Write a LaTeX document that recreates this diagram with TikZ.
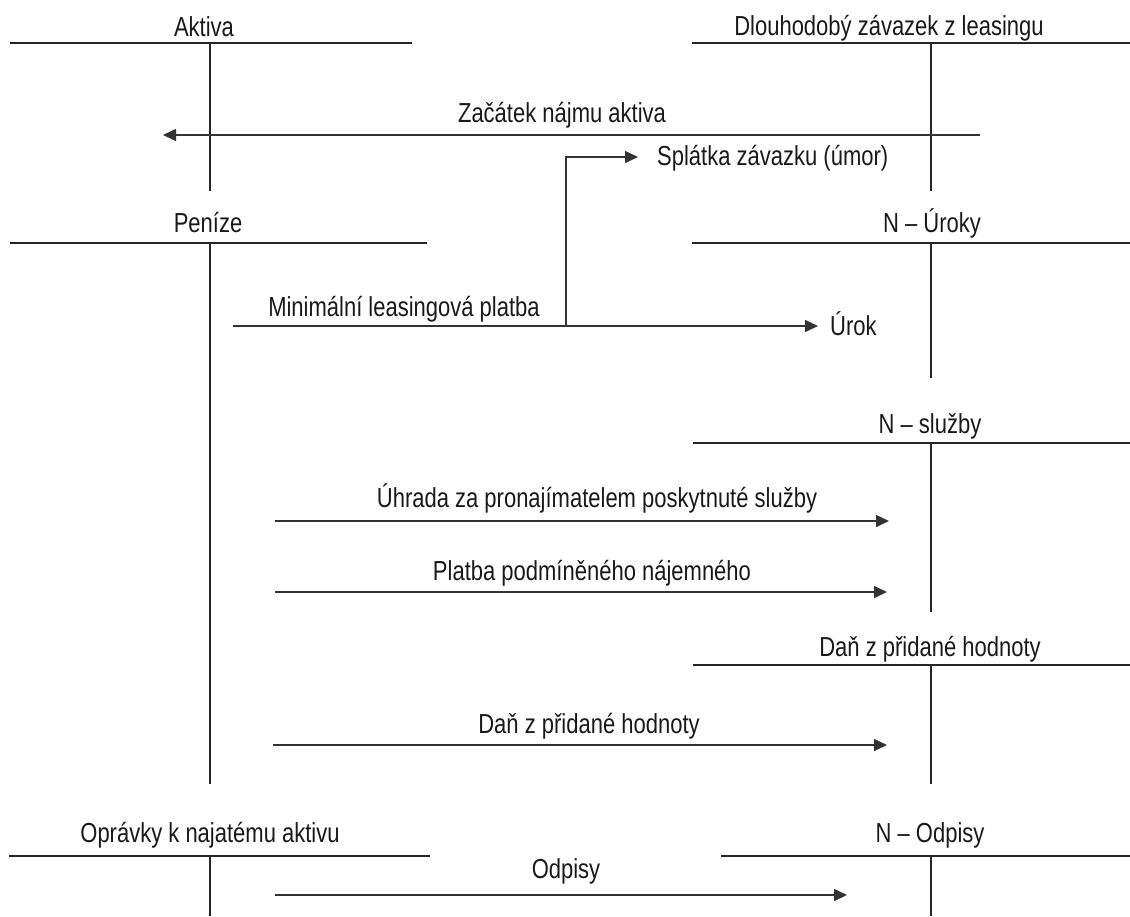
\documentclass[tikz,border=0pt]{standalone}
\usepackage{fontspec}
\setmainfont[FakeStretch=0.8]{Liberation Sans}
\usetikzlibrary{arrows.meta,calc}
\tikzset{
  lbl/.style={font=\fontsize{27.5}{30}\selectfont, inner sep=0pt, anchor=base, text=black!90},
  acct/.style={line width=1.6pt, draw=black!85},
  flow/.style={line width=1.6pt, draw=black!80, -{Triangle[length=13pt,width=12pt]}},
}
\begin{document}
\begin{tikzpicture}[x=1pt,y=-1pt]
\useasboundingbox (0,0) rectangle (1130,916);
% titles
\node[lbl] (aktiva) at (204,36) {Aktiva};
\node[lbl] (dlouh) at (889,35) {Dlouhodobý závazek z leasingu};
\node[lbl] (penize) at (208,232) {Peníze};
\node[lbl] (uroky) at (932,232) {N – Úroky};
\node[lbl] (sluzby) at (930,433) {N – služby};
\node[lbl] (danR) at (930,656) {Daň z přidané hodnoty};
\node[lbl] (opravky) at (210,842) {Oprávky k najatému aktivu};
\node[lbl] (odpisyR) at (930,842) {N – Odpisy};
% T-accounts
\draw[acct] (10,43) -- (412,43) (210,43) -- (210,191);
\draw[acct] (692,43) -- (1130,43) (931,43) -- (931,191);
\draw[acct] (10,243) -- (427,243) (210,243) -- (210,784);
\draw[acct] (692,243) -- (1130,243) (931,243) -- (931,378);
\draw[acct] (693,443) -- (1130,443) (931,443) -- (931,612);
\draw[acct] (693,665) -- (1130,665) (931,665) -- (931,784);
\draw[acct] (9,856) -- (430,856) (210,856) -- (210,916);
\draw[acct] (721,856) -- (1130,856) (931,856) -- (931,916);
% flow labels
\node[lbl] (zacatek) at (562,122) {Začátek nájmu aktiva};
\node[lbl, anchor=base west] (splatka) at (657,165) {Splátka závazku (úmor)};
\node[lbl] (minimal) at (404,316) {Minimální leasingová platba};
\node[lbl, anchor=base west] (urok) at (830,335) {Úrok};
\node[lbl] (uhrada) at (597,507) {Úhrada za pronajímatelem poskytnuté služby};
\node[lbl] (platba) at (592,580) {Platba podmíněného nájemného};
\node[lbl] (danL) at (589,733) {Daň z přidané hodnoty};
\node[lbl] (odpisy) at (566,878) {Odpisy};
% flow coordinates
\coordinate (zs) at (980,135);
\coordinate (ze) at (163,135);
\coordinate (ms) at (233,326);
\coordinate (mj) at (566,326);
\coordinate (us) at (275,521);
\coordinate (ue) at (889,521);
\coordinate (ps) at (275,592);
\coordinate (pe) at (887,592);
\coordinate (ds) at (273,745);
\coordinate (de) at (887,745);
\coordinate (os) at (275,895);
\coordinate (oe) at (847,895);
% flows
\draw[flow] (zs) -- (ze);
\draw[flow] (ms) -- ($(urok.base west)+(-12,-9)$);
\draw[flow] (mj) |- ($(splatka.base west)+(-19,-8)$);
\draw[flow] (us) -- (ue);
\draw[flow] (ps) -- (pe);
\draw[flow] (ds) -- (de);
\draw[flow] (os) -- (oe);
\end{tikzpicture}
\end{document}
